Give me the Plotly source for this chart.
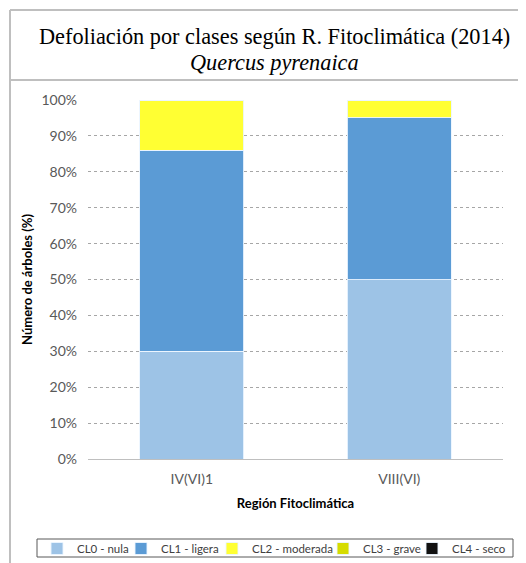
import plotly.graph_objects as go

categories = ["IV(VI)1", "VIII(VI)"]
series_names = ["CL0 - nula", "CL1 - ligera", "CL2 - moderada", "CL3 - grave", "CL4 - seco"]
cl0 = [30, 50]
cl1 = [56, 45]
cl2 = [14, 5]
cl3 = [0, 0]
cl4 = [0, 0]
y_ticks = [0, 10, 20, 30, 40, 50, 60, 70, 80, 90, 100]

colors = ["#9DC3E6", "#5B9BD5", "#FFFF33", "#D6DC00", "#111111"]
legend_widths = [39, 46, 66, 44, 54]
values = [cl0, cl1, cl2, cl3, cl4]

# page has an 8px body margin -> figure drawn 8px smaller, coordinates offset
OFF = 8
W, H = 526 - OFF, 563 - OFF
L, R, T, B = 88 - OFF, W - (503 - OFF), 100 - OFF, H - (459 - OFF)

def px_x(x):  # x in page pixels
    return (x - OFF - L) / (W - L - R)
def px_y(y):  # y in page pixels
    return (H - B - (y - OFF)) / (H - T - B)

fig = go.Figure()
for name, vals, col, lw in zip(series_names, values, colors, legend_widths):
    fig.add_trace(go.Bar(
        x=categories, y=vals, name=name,
        marker=dict(color=col, line=dict(color="rgba(235,245,255,0.9)", width=1)),
        width=0.5,
        legendwidth=lw,
    ))

fig.update_layout(
    width=W, height=H,
    margin=dict(l=L, r=R, t=T, b=B, autoexpand=False),
    barmode="stack",
    bargap=0.5,
    plot_bgcolor="white",
    paper_bgcolor="white",
    font=dict(family="Lato, 'Open Sans', sans-serif", color="#595959", size=13),
    showlegend=True,
    legend=dict(
        orientation="h",
        x=px_x(37), xanchor="left",
        y=px_y(534), yanchor="top",
        borderwidth=0,
        bgcolor="rgba(0,0,0,0)",
        font=dict(size=11.5, color="#404040"),
        itemwidth=30,
        traceorder="normal",
        tracegroupgap=0,
    ),
)

fig.update_yaxes(
    range=[0, 100],
    tickvals=y_ticks,
    ticktext=[f"{v}%" for v in y_ticks],
    showgrid=True, gridcolor="#A6A6A6", griddash="dot", gridwidth=1,
    zeroline=True, zerolinecolor="#BFBFBF", zerolinewidth=1,
    ticks="", ticklabelstandoff=10,
    tickfont=dict(size=14, color="#595959"),
    title=dict(text="<b>Número de árboles (%)</b>", font=dict(size=13, color="#000000"), standoff=5),
    showline=False,
)
fig.update_xaxes(
    showgrid=False, ticks="",
    tickfont=dict(size=14, color="#595959"),
    ticklabelstandoff=10,
    title=dict(text="<b>Región Fitoclimática</b>", font=dict(size=13, color="#000000"), standoff=12),
    showline=False,
)

border = "#BFBFBF"
fig.add_shape(type="line", xref="paper", yref="paper",
              x0=px_x(10), x1=px_x(540), y0=px_y(10), y1=px_y(10),
              line=dict(color=border, width=2))
fig.add_shape(type="line", xref="paper", yref="paper",
              x0=px_x(10), x1=px_x(540), y0=px_y(80), y1=px_y(80),
              line=dict(color=border, width=2))
fig.add_shape(type="line", xref="paper", yref="paper",
              x0=px_x(10), x1=px_x(10), y0=px_y(10), y1=px_y(580),
              line=dict(color=border, width=2))
# legend frame
fig.add_shape(type="rect", xref="paper", yref="paper",
              x0=px_x(37), x1=px_x(513), y0=px_y(539), y1=px_y(557),
              line=dict(color="#595959", width=1), layer="below")

fig.add_annotation(xref="paper", yref="paper", x=px_x(274), y=px_y(36),
                   text="Defoliación por clases según R. Fitoclimática (2014)",
                   showarrow=False, xanchor="center", yanchor="middle",
                   font=dict(family="Liberation Serif, serif", size=22.3, color="#000000"))
fig.add_annotation(xref="paper", yref="paper", x=px_x(274), y=px_y(62),
                   text="<i>Quercus pyrenaica</i>",
                   showarrow=False, xanchor="center", yanchor="middle",
                   font=dict(family="Liberation Serif, serif", size=22.3, color="#000000"))

fig.write_html("out.html")
